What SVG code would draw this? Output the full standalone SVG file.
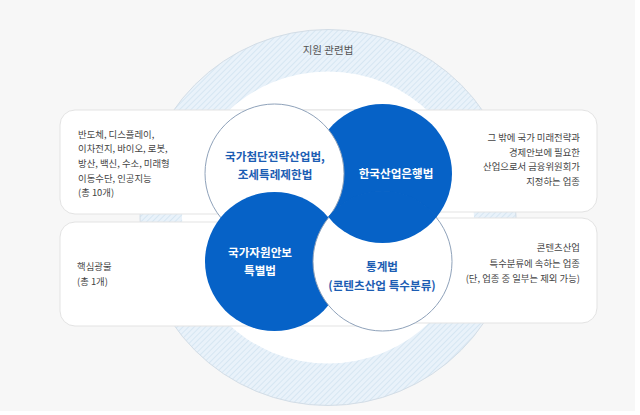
<svg xmlns="http://www.w3.org/2000/svg" width="640" height="415" viewBox="0 0 640 415">
  <defs>
    <pattern id="hatch" patternUnits="userSpaceOnUse" width="4" height="4" patternTransform="rotate(45)">
      <rect width="4" height="4" fill="#e9f2fa"/>
      <line x1="0" y1="0" x2="0" y2="4" stroke="#d2e3f1" stroke-width="1.6"/>
    </pattern>
    <clipPath id="clipBR">
      <circle cx="382.5" cy="261.5" r="70.5"/>
    </clipPath>
  </defs>
  <style>
    .box { fill: #ffffff; stroke: #e3e3e3; stroke-width: 1; }
    .btxt { font-family: "Noto Sans CJK KR", "Noto Sans", sans-serif; font-size: 9.4px; fill: #444444; }
    .wc { fill: #ffffff; stroke: #8fa2ba; stroke-width: 1; }
    .bc { fill: #0662c7; }
    .ctxt-w { font-family: "Noto Sans CJK KR", "Noto Sans", sans-serif; font-size: 11.6px; font-weight: bold; fill: #ffffff; text-anchor: middle; }
    .ctxt-b { font-family: "Noto Sans CJK KR", "Noto Sans", sans-serif; font-size: 11.6px; font-weight: bold; fill: #1c5db3; text-anchor: middle; }
    .title { font-family: "Noto Sans CJK KR", "Noto Sans", sans-serif; font-size: 10.5px; fill: #555555; text-anchor: middle; }
  </style>

  <rect x="0" y="0" width="640" height="415" fill="#ffffff"/>
  <rect x="0" y="0" width="635" height="411" fill="#f7f7f7"/>

  <g id="ring">
    <circle cx="328" cy="217.5" r="188" fill="url(#hatch)" stroke="#d3dde6" stroke-width="1"/>
    <circle cx="328" cy="217.5" r="146" fill="#ffffff"/>
  </g>

  <g id="title">
    <text class="title" x="328" y="54">지원 관련법</text>
  </g>

  <g id="box-right-top">
    <rect class="box" x="250" y="110" width="347" height="102" rx="15"/>
    <text class="btxt" x="580" y="141" text-anchor="end">그 밖에 국가 미래전략과</text>
    <text class="btxt" x="580" y="155.5" text-anchor="end">경제안보에 필요한</text>
    <text class="btxt" x="580" y="170" text-anchor="end">산업으로서 금융위원회가</text>
    <text class="btxt" x="580" y="185" text-anchor="end">지정하는 업종</text>
  </g>

  <g id="box-right-bottom">
    <rect class="box" x="250" y="218" width="347" height="105" rx="15"/>
    <text class="btxt" x="580" y="251" text-anchor="end">콘텐츠산업</text>
    <text class="btxt" x="580" y="266.5" text-anchor="end">특수분류에 속하는 업종</text>
    <text class="btxt" x="580" y="282" text-anchor="end">(단, 업종 중 일부는 제외 가능)</text>
  </g>

  <g id="box-left-top">
    <rect class="box" x="60" y="110" width="340" height="104" rx="15"/>
    <text class="btxt" x="78" y="137.8">반도체, 디스플레이,</text>
    <text class="btxt" x="78" y="152.4">이차전지, 바이오, 로봇,</text>
    <text class="btxt" x="78" y="167">방산, 백신, 수소, 미래형</text>
    <text class="btxt" x="78" y="181.6">이동수단, 인공지능</text>
    <text class="btxt" x="78" y="196.2">(총 10개)</text>
  </g>

  <g id="box-left-bottom">
    <rect class="box" x="60" y="222" width="340" height="104" rx="15"/>
    <text class="btxt" x="77" y="270">핵심광물</text>
    <text class="btxt" x="77" y="285">(총 1개)</text>
  </g>

  <g id="circle-tr">
    <circle class="bc" cx="382.5" cy="173.5" r="69.5"/>
  </g>
  <g id="circle-tl">
    <circle class="wc" cx="274.5" cy="173.5" r="69.5"/>
  </g>
  <g id="circle-bl">
    <circle class="bc" cx="274.5" cy="261.5" r="69.5"/>
  </g>
  <g id="circle-br">
    <circle class="wc" cx="382.5" cy="261.5" r="69.5"/>
  </g>
  <g id="circle-tr-overlap">
    <circle class="bc" cx="382.5" cy="173.5" r="69.5" clip-path="url(#clipBR)"/>
  </g>

  <g id="labels">
    <text class="ctxt-b" x="275" y="161">국가첨단전략산업법,</text>
    <text class="ctxt-b" x="275" y="179">조세특례제한법</text>
    <text class="ctxt-w" x="396" y="178">한국산업은행법</text>
    <text class="ctxt-w" x="260" y="257">국가자원안보</text>
    <text class="ctxt-w" x="260" y="275">특별법</text>
    <text class="ctxt-b" x="382" y="271">통계법</text>
    <text class="ctxt-b" x="382" y="290">(콘텐츠산업 특수분류)</text>
  </g>
</svg>
